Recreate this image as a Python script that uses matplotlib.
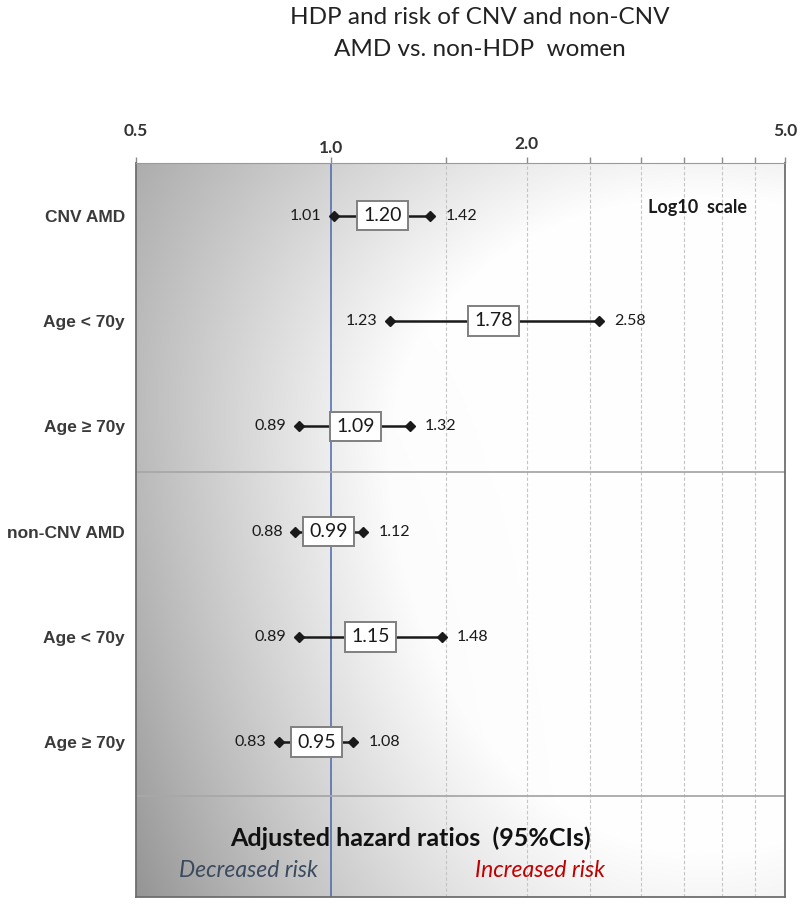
import numpy as np
import matplotlib
matplotlib.use("Agg")
import matplotlib.pyplot as plt

# Daten: adjustierte Hazard Ratios mit 95%-KI
row_labels = ["CNV AMD", "Age < 70y", "Age \u2265 70y",
              "non-CNV AMD", "Age < 70y", "Age \u2265 70y"]
hr    = [1.20, 1.78, 1.09, 0.99, 1.15, 0.95]
ci_lo = [1.01, 1.23, 0.89, 0.88, 0.89, 0.83]
ci_hi = [1.42, 2.58, 1.32, 1.12, 1.48, 1.08]

tick_pos    = [0.5, 1.0, 1.5, 2.0, 2.5, 3.0, 3.5, 4.0, 4.5, 5.0]
label_ticks = [0.5, 1.0, 2.0, 5.0]
label_texts = ["0.5", "1.0", "2.0", "5.0"]
label_pads  = [17, 5, 8, 17]          # gestaffelte Hoehe der Beschriftung (pt)
grid_pos    = [1.5, 2.0, 2.5, 3.0, 3.5, 4.0, 4.5]

CAL = ["Lato", "DejaVu Sans"]
ARI = ["Liberation Sans", "DejaVu Sans"]

W_PX, H_PX = 800, 905
fig = plt.figure(figsize=(W_PX / 100, H_PX / 100), dpi=100)

L, R, T, B = 136, 785, 163, 897
rect = [L / W_PX, 1 - B / H_PX, (R - L) / W_PX, (B - T) / H_PX]

# Hintergrund: asymmetrischer radialer Grauverlauf
bg = fig.add_axes(rect, zorder=0)
xs = np.linspace(L, R, 400)
ys = np.linspace(T, B, 450)
X, Y = np.meshgrid(xs, ys)
cx, cy = 700, 450
dx = np.where(X < cx, (X - cx) / 620, (X - cx) / 700)
dy = np.where(Y < cy, (Y - cy) / 500, (Y - cy) / 800)
v = np.sqrt(dx ** 2 + dy ** 2)
xf = (X - L) / (R - L)
yf = (Y - T) / (B - T)
gray = 1 - 0.56 * np.clip(v - 0.5, 0, None) - 0.1 * yf * (1 - xf) ** 3
gray = np.clip(gray, 0.55, 1.0)
bg.imshow(np.dstack([gray] * 3), aspect="auto", extent=[0, 1, 0, 1],
          interpolation="bilinear")
bg.axis("off")

ax = fig.add_axes(rect, zorder=1)
ax.set_facecolor("none")
ax.set_xscale("log")
ax.set_xlim(0.5, 5.0)
ax.set_ylim(6.47, -0.5)

# Achse oben
ax.xaxis.tick_top()
ax.set_xticks(tick_pos)
ax.set_xticklabels([])
ax.minorticks_off()
ax.tick_params(axis="x", which="major", length=4, color="#8c8c8c", width=1)
for x, t, p in zip(label_ticks, label_texts, label_pads):
    ax.annotate(t, xy=(x, 1), xycoords=ax.get_xaxis_transform(),
                xytext=(0, p), textcoords="offset points",
                ha="center", va="bottom", fontsize=12.5, fontweight="bold",
                color="#333333", family=CAL)

for g in grid_pos:
    ax.axvline(g, color="#c4c4c4", lw=0.8, ls=(0, (3, 2)), zorder=1)
ax.axvline(1.0, color="#4a66a8", lw=1.1, zorder=2)

for yy in [2.43, 5.51]:
    ax.axhline(yy, color="#a8a8a8", lw=1.3, zorder=2)

for s in ["left", "right", "bottom"]:
    ax.spines[s].set_color("#6e6e6e")
    ax.spines[s].set_linewidth(1.3)
ax.spines["top"].set_color("#9a9a9a")

ax.set_yticks(range(len(row_labels)))
ax.set_yticklabels(row_labels, fontsize=12.5, fontweight="bold",
                   color="#3a3a3a", family=ARI)
ax.tick_params(axis="y", length=0, pad=8)

# Konfidenzintervalle + Punktschaetzer
for i, (h, lo, hi) in enumerate(zip(hr, ci_lo, ci_hi)):
    ax.plot([lo, hi], [i, i], color="#1a1a1a", lw=1.8, zorder=3)
    ax.plot([lo, hi], [i, i], ls="none", marker="D", ms=5.5,
            color="#1a1a1a", zorder=4)
    ax.text(h, i, f"{h:.2f}", ha="center", va="center", fontsize=14,
            family=CAL, color="#1a1a1a", zorder=5,
            bbox=dict(boxstyle="square,pad=0.32", fc="white",
                      ec="#808080", lw=1.4))
    ax.annotate(f"{lo:.2f}", xy=(lo, i), xytext=(-9, 0),
                textcoords="offset points", ha="right", va="center",
                fontsize=11.5, family=CAL, color="#1a1a1a")
    ax.annotate(f"{hi:.2f}", xy=(hi, i), xytext=(11, 0),
                textcoords="offset points", ha="left", va="center",
                fontsize=11.5, family=CAL, color="#1a1a1a")

ax.text(698 / W_PX, 1 - 207 / H_PX, "Log10  scale", transform=fig.transFigure,
        ha="center", va="center", fontsize=13, fontweight="bold",
        family=CAL, color="#1a1a1a")

fig.text(480 / W_PX, 1 - 18 / H_PX, "HDP and risk of CNV and non-CNV",
         ha="center", va="center", fontsize=17.5, family=CAL, color="#222222")
fig.text(480 / W_PX, 1 - 50 / H_PX, "AMD vs. non-HDP  women",
         ha="center", va="center", fontsize=17.5, family=CAL, color="#222222")

fig.text(410 / W_PX, 1 - 838 / H_PX, "Adjusted hazard ratios  (95%CIs)",
         ha="center", va="center", fontsize=18, fontweight="bold",
         family=CAL, color="#111111")
fig.text(248 / W_PX, 1 - 870 / H_PX, "Decreased risk", ha="center",
         va="center", fontsize=16.5, style="italic", family=CAL,
         color="#3b4a5e")
fig.text(540 / W_PX, 1 - 870 / H_PX, "Increased risk", ha="center",
         va="center", fontsize=16.5, style="italic", family=CAL,
         color="#c00000")

fig.savefig("out.png", dpi=100)
